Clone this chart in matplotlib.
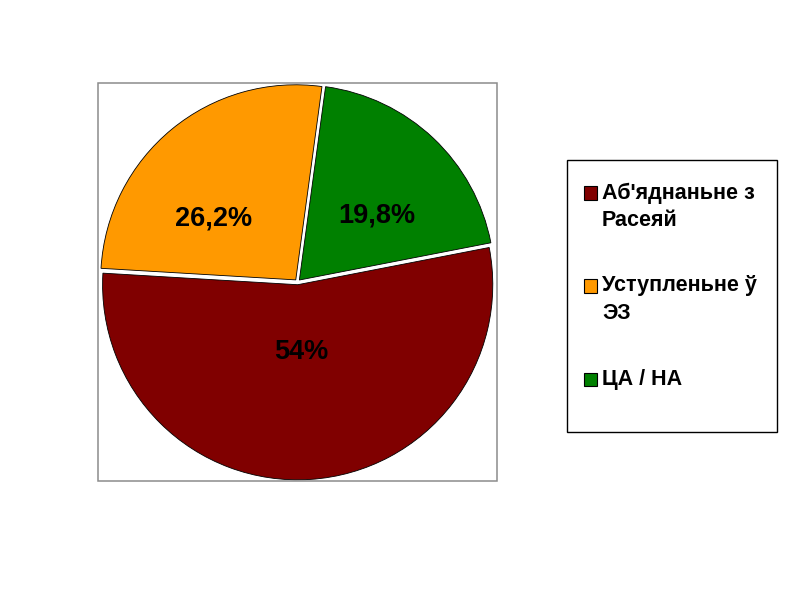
import numpy as np
import matplotlib
matplotlib.use("Agg")
import matplotlib.pyplot as plt
from matplotlib.patches import Rectangle

plt.rcParams['font.family'] = ['Liberation Sans', 'DejaVu Sans']

# dadzenyja
labels = ["Аб'яднаньне з\nРасеяй", "Уступленьне ў\nЭЗ", "ЦА / НА"]
values = [54, 26.2, 19.8]
colors = ["#800000", "#FF9900", "#008000"]

W, H = 800, 600
fig = plt.figure(figsize=(8, 6), dpi=100)

def box(x0, y0, x1, y1, ec, lw):
    # ramka u pikselyakh (zverhu-zleva)
    fig.patches.append(Rectangle((x0 / W, 1 - y1 / H), (x1 - x0) / W, (y1 - y0) / H,
                                 transform=fig.transFigure, facecolor="none",
                                 edgecolor=ec, linewidth=lw, zorder=5))

# plot area
ax = fig.add_axes([98 / W, 1 - 481 / H, 399 / W, 398 / H])
wedges, _ = ax.pie(values, colors=colors, startangle=11, counterclock=False,
                   explode=[0.014] * 3,
                   wedgeprops=dict(edgecolor="black", linewidth=0.6))
ax.set_xlim(-1.02, 1.02)
ax.set_ylim(-1.02, 1.02)
ax.set_aspect('equal')
ax.axis('off')
box(98, 83, 497, 481, "#8c8c8c", 1.1)

# podpisy (radyus, kut)
label_pos = [(0.36, -87), (0.54, 143), (0.53, 40)]
for v, (r, a) in zip(values, label_pos):
    txt = ("%g" % v).replace(".", ",") + "%"
    ax.text(r * np.cos(np.deg2rad(a)), r * np.sin(np.deg2rad(a)), txt,
            ha="center", va="center", fontsize=19.5, fontweight="bold", color="black")

# legenda
box(567, 160, 777, 432, "black", 1.0)
line_h = 27.5
y = 193
for lab, c in zip(labels, colors):
    fig.patches.append(Rectangle((584 / W, 1 - (y + 6.5) / H), 13 / W, 13 / H,
                                 transform=fig.transFigure, facecolor=c,
                                 edgecolor="black", linewidth=0.8, zorder=6))
    lines = lab.split("\n")
    for k, ln in enumerate(lines):
        fig.text(602 / W, 1 - (y + k * line_h) / H, ln, ha="left", va="center",
                 fontsize=15.5, fontweight="bold", color="black")
    y += len(lines) * line_h + 38

fig.savefig("out.png", dpi=100, facecolor="white")
